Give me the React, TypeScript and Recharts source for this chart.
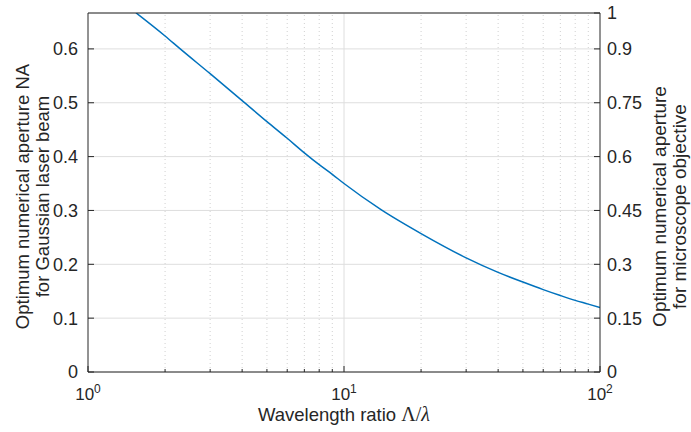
import React from 'react'
import { LineChart, Line, XAxis, YAxis, CartesianGrid, ReferenceLine } from 'recharts'

// values (log x axis)
const wavelengthRatio = [1.54, 2, 2.28, 3, 4, 5, 6, 7, 8, 9, 10, 14, 20, 30, 40, 50, 60, 70, 80, 90, 100]
const naGaussian = [0.667, 0.624, 0.601, 0.554, 0.504, 0.465, 0.434, 0.407, 0.385, 0.367, 0.35, 0.301, 0.257, 0.212, 0.185, 0.167, 0.153, 0.142, 0.133, 0.126, 0.1195]

const majorXTicks = [1, 10, 100]
const minorXTicks = [2, 3, 4, 5, 6, 7, 8, 9, 20, 30, 40, 50, 60, 70, 80, 90]
const allXTicks = [1, 2, 3, 4, 5, 6, 7, 8, 9, 10, 20, 30, 40, 50, 60, 70, 80, 90, 100]
const leftTicks = [0, 0.1, 0.2, 0.3, 0.4, 0.5, 0.6]
const rightTicks = [0, 0.15, 0.3, 0.45, 0.6, 0.75, 0.9, 1]

const data = wavelengthRatio.map((x, i) => ({ x, na: naGaussian[i] }))

const ink = '#262626'
const font = '"Liberation Sans", Arial, Helvetica, sans-serif'
const mathFont = '"Liberation Serif", "DejaVu Serif", serif'

const BottomTick = ({ x, y, payload }: any) => {
  const v = payload.value
  const major = majorXTicks.includes(v)
  return (
    <g>
      <line x1={x} x2={x} y1={y} y2={y - (major ? 6 : 3)} stroke={ink} />
      {major && (
        <text x={x} y={y + 28} textAnchor="middle" fontSize={17} fill={ink} fontFamily={font}>
          10<tspan dy={-7} fontSize={12}>{Math.round(Math.log10(v))}</tspan>
        </text>
      )}
    </g>
  )
}

const TopTick = ({ x, y, payload }: any) => {
  const major = majorXTicks.includes(payload.value)
  return <line x1={x} x2={x} y1={y} y2={y + (major ? 6 : 3)} stroke={ink} />
}

const LeftTick = ({ x, y, payload }: any) => (
  <g>
    <line x1={x} x2={x + 6} y1={y} y2={y} stroke={ink} />
    <text x={x - 10} y={y} dy="0.36em" textAnchor="end" fontSize={18} fill={ink} fontFamily={font}>
      {String(payload.value)}
    </text>
  </g>
)

const RightTick = ({ x, y, payload }: any) => (
  <g>
    <line x1={x} x2={x - 6} y1={y} y2={y} stroke={ink} />
    <text x={x + 7} y={y} dy="0.36em" textAnchor="start" fontSize={18} fill={ink} fontFamily={font}>
      {String(payload.value)}
    </text>
  </g>
)

const YTitle = ({ viewBox, lines, cx, shift, size }: any) => {
  const cy = viewBox.y + viewBox.height / 2 + shift
  return (
    <text
      x={cx}
      y={cy}
      transform={`rotate(-90, ${cx}, ${cy})`}
      textAnchor="middle"
      fontSize={size}
      fill={ink}
      fontFamily={font}
    >
      <tspan x={cx} dy={0}>{lines[0]}</tspan>
      <tspan x={cx} dy={19.5}>{lines[1]}</tspan>
    </text>
  )
}

const XTitle = ({ viewBox }: any) => {
  const cx = viewBox.x + viewBox.width / 2
  return (
    <text x={cx} y={421} textAnchor="middle" fontSize={18.5} fill={ink} fontFamily={font}>
      Wavelength ratio{' '}
      <tspan fontFamily={mathFont} fontSize={20}>Λ/</tspan>
      <tspan fontFamily={mathFont} fontSize={20} fontStyle="italic">λ</tspan>
    </text>
  )
}

export default function App() {
  return (
    <div style={{ position: 'absolute', left: 0, top: 0, background: '#fff' }}>
      <LineChart width={691} height={432} data={data} margin={{ top: 12, right: 31, bottom: 30, left: 28 }}>
        <CartesianGrid yAxisId="left" vertical={false} stroke="#dedede" />
        {minorXTicks.map((t) => (
          <ReferenceLine key={t} x={t} yAxisId="left" stroke="#d0d0d0" strokeDasharray="1 3" />
        ))}
        <ReferenceLine x={10} yAxisId="left" stroke="#dedede" />
        <XAxis
          dataKey="x"
          type="number"
          scale="log"
          domain={[1, 100]}
          ticks={allXTicks}
          interval={0}
          allowDataOverflow
          height={30}
          tickSize={0}
          tickMargin={0}
          tickLine={false}
          axisLine={{ stroke: ink }}
          tick={<BottomTick />}
          label={<XTitle />}
        />
        <XAxis
          xAxisId="top"
          orientation="top"
          type="number"
          scale="log"
          domain={[1, 100]}
          ticks={allXTicks}
          interval={0}
          allowDataOverflow
          height={1}
          tickSize={0}
          tickMargin={0}
          tickLine={false}
          axisLine={{ stroke: ink }}
          tick={<TopTick />}
        />
        <YAxis
          yAxisId="left"
          type="number"
          domain={[0, 2 / 3]}
          ticks={leftTicks}
          interval={0}
          allowDataOverflow
          width={60}
          tickSize={0}
          tickMargin={0}
          tickLine={false}
          axisLine={{ stroke: ink }}
          tick={<LeftTick />}
          label={
            <YTitle
              lines={['Optimum numerical aperture NA', 'for Gaussian laser beam']}
              cx={29}
              shift={4}
              size={18.5}
            />
          }
        />
        <YAxis
          yAxisId="right"
          orientation="right"
          type="number"
          domain={[0, 1]}
          ticks={rightTicks}
          interval={0}
          allowDataOverflow
          width={60}
          tickSize={0}
          tickMargin={0}
          tickLine={false}
          axisLine={{ stroke: ink }}
          tick={<RightTick />}
          label={
            <YTitle
              lines={['Optimum numerical aperture', 'for microscope objective']}
              cx={666}
              shift={14}
              size={19}
            />
          }
        />
        <Line
          yAxisId="left"
          dataKey="na"
          type="monotone"
          stroke="#0072BD"
          strokeWidth={1.5}
          dot={false}
          isAnimationActive={false}
        />
      </LineChart>
    </div>
  )
}
